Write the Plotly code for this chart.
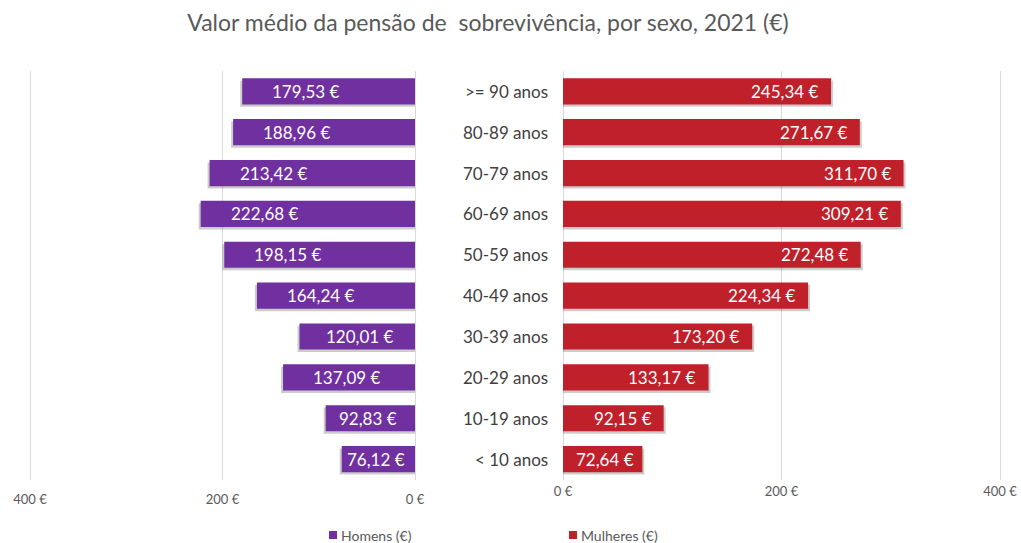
import plotly.graph_objects as go

# Survivor pension, average value by age group and sex, 2021
categories = [">= 90 anos", "80-89 anos", "70-79 anos", "60-69 anos", "50-59 anos",
              "40-49 anos", "30-39 anos", "20-29 anos", "10-19 anos", "< 10 anos"]
homens = [179.53, 188.96, 213.42, 222.68, 198.15, 164.24, 120.01, 137.09, 92.83, 76.12]
mulheres = [245.34, 271.67, 311.70, 309.21, 272.48, 224.34, 173.20, 133.17, 92.15, 72.64]
tick_values = [0, 200, 400]
tick_labels = ["0 €", "200 €", "400 €"]

TITLE = "Valor médio da pensão de  sobrevivência, por sexo, 2021 (€)"
NAME_H = "Homens (€)"
NAME_M = "Mulheres (€)"

PURPLE = "#7030A0"
RED = "#C0202A"
SHADOW = "rgba(0,0,0,0.2)"
GREY_TXT = "#595959"
GRID = "#D9D9D9"
FONT = "Lato"

W, H = 1021, 543
XMAX = 400
PAD = 3  # small range padding so the edge gridlines stay visible
# pixel extents of each panel's 0..400 scale
LEFT_PX = (30, 415)
RIGHT_PX = (563, 1000)
px_left = (LEFT_PX[1] - LEFT_PX[0]) / XMAX
px_right = (RIGHT_PX[1] - RIGHT_PX[0]) / XMAX
LEFT_DOM = [(LEFT_PX[0] - PAD * px_left) / W, (LEFT_PX[1] + PAD * px_left) / W]
RIGHT_DOM = [(RIGHT_PX[0] - PAD * px_right) / W, (RIGHT_PX[1] + PAD * px_right) / W]
Y_DOM = [1 - 479.5 / H, 1 - 70.9 / H]
BAR_W = 0.64


def fmt(v):
    return f"{v:,.2f}".replace(",", " ").replace(".", ",") + " €"


fig = go.Figure()
# soft drop shadow under each bar (drawn first, slightly lower and longer)
for vals, xa, ya, px in [(homens, "x", "y", px_left), (mulheres, "x2", "y2", px_right)]:
    fig.add_trace(go.Bar(y=categories, x=[v + 2 / px for v in vals], orientation="h",
                         marker_color=SHADOW, marker_line_width=0, xaxis=xa, yaxis=ya,
                         width=BAR_W, offset=-BAR_W / 2 + 0.06, showlegend=False,
                         hoverinfo="skip"))
fig.add_trace(go.Bar(y=categories, x=homens, orientation="h", marker_color=PURPLE,
                     marker_line_width=0, xaxis="x", yaxis="y", width=BAR_W,
                     offset=-BAR_W / 2, showlegend=False, name=NAME_H))
fig.add_trace(go.Bar(y=categories, x=mulheres, orientation="h", marker_color=RED,
                     marker_line_width=0, xaxis="x2", yaxis="y2", width=BAR_W,
                     offset=-BAR_W / 2, showlegend=False, name=NAME_M))

annotations = []
label_font = dict(family=FONT, size=17, color="white")
LABEL_W = 66
for cat, v in zip(categories, homens):
    room = v * px_left - LABEL_W
    shift = min(28, max(2, room / 2))
    annotations.append(dict(x=v, y=cat, xref="x", yref="y", text=fmt(v), showarrow=False,
                            xanchor="left", xshift=shift, font=label_font))
for cat, v in zip(categories, mulheres):
    room = v * px_right - LABEL_W
    shift = min(10, max(2, room / 2))
    annotations.append(dict(x=v, y=cat, xref="x2", yref="y2", text=fmt(v), showarrow=False,
                            xanchor="right", xshift=-shift, font=label_font))

# age-group labels between the two panels
for cat in categories:
    annotations.append(dict(x=550 / W, y=cat, xref="paper", yref="y2", text=cat,
                            showarrow=False, xanchor="right",
                            font=dict(family=FONT, size=17, color="#404040")))

# legend entries
shapes = []
for name, color, x0 in [(NAME_H, PURPLE, 329), (NAME_M, RED, 569)]:
    shapes.append(dict(type="rect", xref="paper", yref="paper",
                       x0=x0 / W, x1=(x0 + 8) / W, y0=1 - 539 / H, y1=1 - 531 / H,
                       fillcolor=color, line_width=0))
    annotations.append(dict(x=(x0 + 10) / W, y=1 - 535 / H, xref="paper", yref="paper",
                            text=name, showarrow=False, xanchor="left", yanchor="middle",
                            font=dict(family=FONT, size=14, color=GREY_TXT)))

axis_common = dict(showgrid=True, gridcolor=GRID, gridwidth=1, zeroline=False,
                   showline=False, ticks="", tickvals=tick_values, ticktext=tick_labels,
                   tickfont=dict(family=FONT, size=13, color=GREY_TXT), fixedrange=True)

fig.update_layout(
    autosize=False,
    width=W, height=H,
    margin=dict(l=0, r=0, t=0, b=0, autoexpand=False),
    paper_bgcolor="white", plot_bgcolor="white",
    title=dict(text=TITLE, x=488 / W, xanchor="center", y=1 - 23 / H, yanchor="middle",
               font=dict(family=FONT, size=23, color=GREY_TXT)),
    xaxis=dict(domain=LEFT_DOM, range=[XMAX + PAD, -PAD], anchor="y",
               ticklabelstandoff=10, **axis_common),
    xaxis2=dict(domain=RIGHT_DOM, range=[-PAD, XMAX + PAD], anchor="y2",
                ticklabelstandoff=2, **axis_common),
    yaxis=dict(domain=Y_DOM, categoryorder="array", categoryarray=categories,
               autorange="reversed", showticklabels=False, showgrid=False, zeroline=False,
               anchor="x"),
    yaxis2=dict(domain=Y_DOM, categoryorder="array", categoryarray=categories,
                autorange="reversed", showticklabels=False, showgrid=False, zeroline=False,
                anchor="x2"),
    annotations=annotations,
    shapes=shapes,
    barmode="overlay",
)

fig.write_html("out.html", config={"responsive": False})
